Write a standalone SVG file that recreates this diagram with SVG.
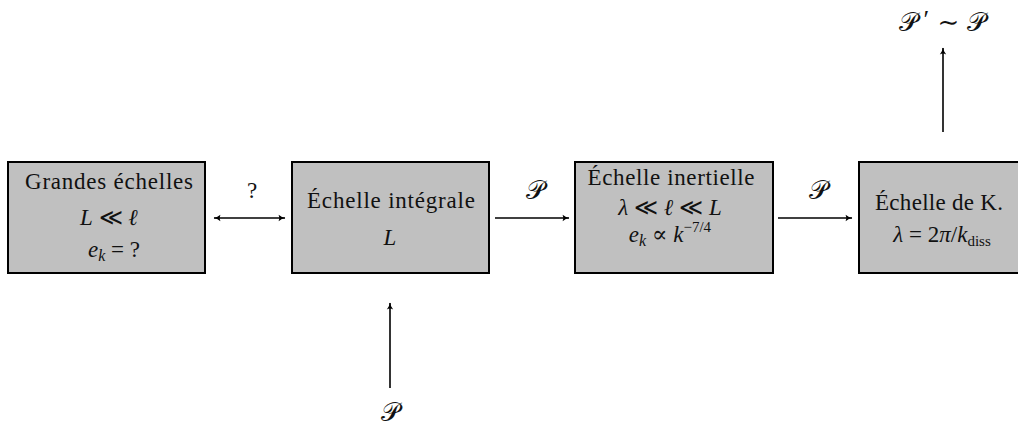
<svg xmlns="http://www.w3.org/2000/svg" width="1018" height="427" viewBox="0 0 1018 427">
<style>
.box{fill:#c0c0c0;stroke:#000;stroke-width:2}
.t{font-family:"Liberation Serif","DejaVu Serif",serif;font-size:23px;fill:#111;text-anchor:middle}
.m{font-style:italic}
.cal{font-family:"DejaVu Serif","Noto Sans",serif;font-size:26px;fill:#111;text-anchor:middle}
.c{fill:none;stroke:#000;stroke-width:1.6}
</style>
<defs>
<marker id="ah" viewBox="0 0 10 10" refX="9" refY="5" markerWidth="8" markerHeight="8" markerUnits="userSpaceOnUse" orient="auto-start-reverse">
<path d="M1,1 Q5,4.5 9.5,5 Q5,5.5 1,9 Q3,5 1,1 Z" fill="#000"/>
</marker>
</defs>
<rect width="1018" height="427" fill="#fff"/>
<g id="connectors">
<line class="c" x1="214" y1="218" x2="285" y2="218" marker-start="url(#ah)" marker-end="url(#ah)"/>
<line class="c" x1="495" y1="218" x2="569" y2="218" marker-end="url(#ah)"/>
<line class="c" x1="778" y1="218" x2="852" y2="218" marker-end="url(#ah)"/>
<line class="c" x1="390" y1="388" x2="390" y2="303" marker-end="url(#ah)"/>
<line class="c" x1="943" y1="132" x2="943" y2="48" marker-end="url(#ah)"/>
<text class="t" x="252" y="198">?</text>
<text class="cal" x="535" y="199">𝒫</text>
<text class="cal" x="818" y="199">𝒫</text>
<text class="cal" x="390" y="421">𝒫</text>
<text class="cal" x="943" y="31">𝒫<tspan font-family="Liberation Serif" font-size="26" dx="5" dy="-3">′</tspan><tspan dy="3"> ∼ 𝒫</tspan></text>
</g>
<g id="grandes">
<rect class="box" x="8" y="162" width="197" height="111"/>
<text class="t" x="109" y="189" textLength="168" lengthAdjust="spacing">Grandes échelles</text>
<text class="t" x="109" y="225"><tspan class="m">L</tspan> ≪ <tspan class="m">ℓ</tspan></text>
<text class="t" x="114" y="257"><tspan class="m">e</tspan><tspan class="m" font-size="16" dy="4">k</tspan><tspan dy="-4"> = ?</tspan></text>
</g>
<g id="integrale">
<rect class="box" x="292" y="162" width="197" height="111"/>
<text class="t" x="391" y="208" textLength="168" lengthAdjust="spacing">Échelle intégrale</text>
<text class="t m" x="390" y="245">L</text>
</g>
<g id="inertielle">
<rect class="box" x="575" y="162" width="198" height="111"/>
<text class="t" x="671" y="185" textLength="167" lengthAdjust="spacing">Échelle inertielle</text>
<text class="t" x="670" y="215"><tspan class="m">λ</tspan> ≪ <tspan class="m">ℓ</tspan> ≪ <tspan class="m">L</tspan></text>
<text class="t" x="670" y="242"><tspan class="m">e</tspan><tspan class="m" font-size="16" dy="4">k</tspan><tspan dy="-4"> ∝ </tspan><tspan class="m">k</tspan><tspan font-size="15" dy="-10">−7/4</tspan></text>
</g>
<g id="kolmogorov">
<rect class="box" x="859" y="162" width="170" height="111"/>
<text class="t" x="939" y="210" textLength="128" lengthAdjust="spacing">Échelle de K.</text>
<text class="t" x="942" y="242"><tspan class="m">λ</tspan> = 2<tspan class="m">π</tspan>/<tspan class="m">k</tspan><tspan font-size="15" dy="4">diss</tspan></text>
</g>
</svg>
